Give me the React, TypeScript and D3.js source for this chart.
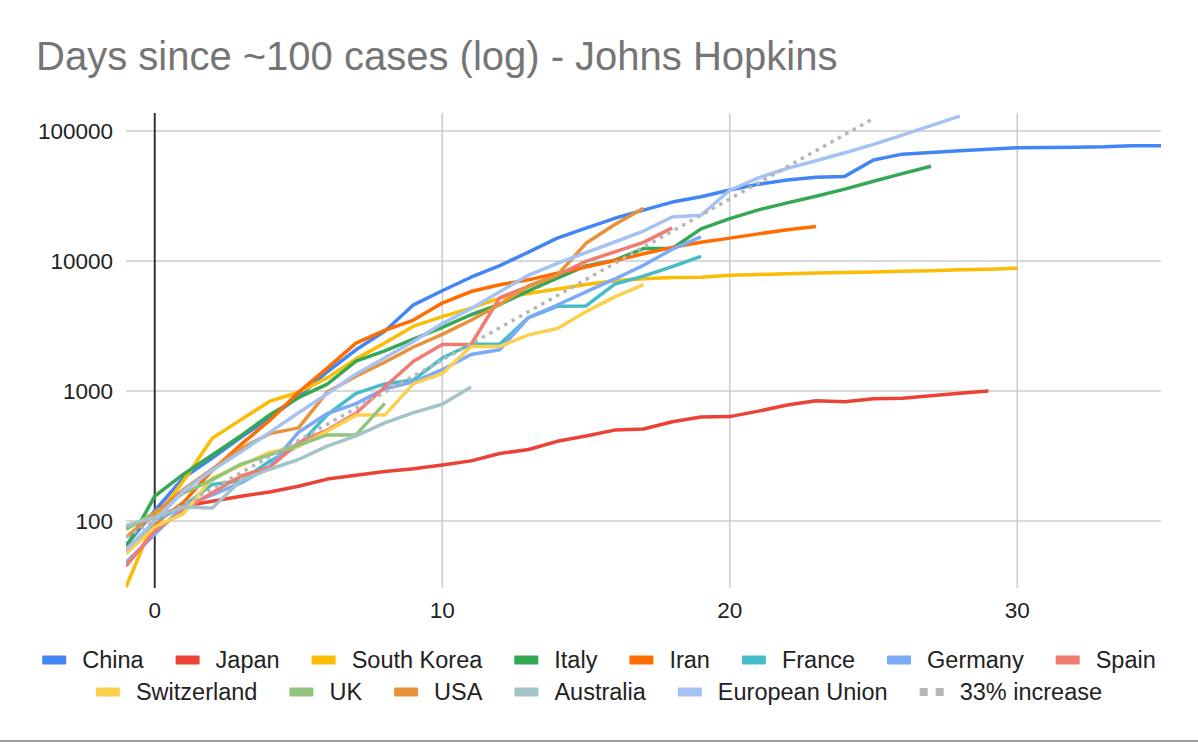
import React, { useRef, useEffect } from "react";
import * as d3 from "d3";

// every series starts on day -1
const startDay = -1;

const seriesNames = [
    "China", "Japan", "South Korea", "Italy", "Iran", "France", "Germany",
    "Spain", "Switzerland", "UK", "USA", "Australia", "European Union", "33% increase",
];
const seriesColors = [
    "#4285F4", "#EA4335", "#FBBC04", "#34A853", "#FF6D01", "#46BDC6", "#7BAAF7",
    "#F07B72", "#FCD04F", "#93C47D", "#E8923A", "#A2C4C9", "#A4C2F4", "#B7B7B7",
];

const china = [65, 120, 215, 305, 440, 620, 900, 1406, 2075, 2877, 4600, 5900, 7500, 9200, 11700, 15000, 17900, 21300, 24600, 28400, 31200, 35200, 39000, 42000, 44000, 44759, 59895, 66358, 68413, 70513, 72434, 74211, 74619, 75077, 75550, 77001, 77022];
const japan = [90, 107, 130, 142, 155, 167, 185, 210, 225, 240, 252, 270, 290, 330, 355, 410, 450, 500, 510, 580, 630, 635, 700, 780, 840, 825, 870, 880, 920, 960, 1000];
const southKorea = [31, 104, 204, 433, 602, 833, 977, 1261, 1766, 2337, 3150, 3736, 4335, 5186, 5621, 6088, 6593, 7041, 7314, 7478, 7513, 7755, 7869, 7979, 8086, 8162, 8236, 8320, 8413, 8565, 8652, 8799];
const italy = [62, 155, 229, 322, 453, 655, 888, 1128, 1694, 2036, 2502, 3089, 3858, 4636, 5883, 7375, 9172, 10149, 12462, 12462, 17660, 21157, 24747, 27980, 31506, 35713, 41035, 47021, 53578];
const iran = [61, 95, 139, 245, 388, 593, 978, 1501, 2336, 2922, 3513, 4747, 5823, 6566, 7161, 8042, 9000, 10075, 11364, 12729, 13938, 14991, 16169, 17361, 18407];
const france = [57, 100, 130, 191, 204, 288, 380, 656, 957, 1134, 1217, 1792, 2289, 2289, 3672, 4480, 4513, 6650, 7652, 9043, 10871];
const germany = [48, 79, 130, 159, 196, 262, 482, 670, 799, 1040, 1176, 1457, 1908, 2078, 3675, 4585, 5795, 7272, 9257, 12327, 15320];
const spain = [45, 84, 120, 165, 222, 259, 400, 500, 673, 1073, 1695, 2277, 2277, 5232, 6391, 7798, 9942, 11748, 13910, 17963];
const switzerland = [56, 90, 114, 214, 268, 337, 374, 491, 652, 652, 1139, 1359, 2200, 2200, 2700, 3028, 4075, 5294, 6575];
const uk = [86, 116, 164, 207, 274, 322, 384, 459, 459, 802];
const usa = [75, 115, 175, 250, 360, 470, 520, 980, 1300, 1663, 2179, 2727, 3499, 4632, 6421, 7783, 13677, 19100, 25489];
const australia = [92, 107, 128, 126, 205, 250, 297, 377, 452, 568, 681, 791, 1071];
const europeanUnion = [60, 100, 170, 245, 340, 480, 680, 950, 1350, 1800, 2400, 3300, 4300, 5800, 7800, 9600, 11600, 14000, 17000, 21800, 22500, 35000, 43600, 51600, 59000, 68000, 79000, 93000, 110000, 130000];
const increase33 = [75, 100, 133, 177, 235, 313, 416, 554, 736, 979, 1302, 1732, 2303, 3064, 4075, 5419, 7208, 9586, 12749, 16956, 22552, 29994, 39892, 53056, 70565, 93851, 124822];

const seriesValues = [china, japan, southKorea, italy, iran, france, germany, spain, switzerland, uk, usa, australia, europeanUnion, increase33];

const xTicks = [0, 10, 20, 30];
const yTicks = [100, 1000, 10000, 100000];

const App = () => {
    const svgRef = useRef(null);

    useEffect(() => {
        const width = 1198;
        const height = 744;
        const plot = { left: 126, right: 1161, top: 113, bottom: 588 };
        const font = "'Liberation Sans', Arial, sans-serif";

        const svg = d3.select(svgRef.current).attr("width", width).attr("height", height);
        svg.selectAll("*").remove();

        svg.append("rect").attr("width", width).attr("height", height).attr("fill", "#fff");

        svg.append("text")
            .attr("x", 36)
            .attr("y", 70)
            .attr("font-family", font)
            .attr("font-size", 40)
            .attr("fill", "#757575")
            .text("Days since ~100 cases (log) - Johns Hopkins");

        const x = d3.scaleLinear().domain([-1, 35]).range([plot.left, plot.right]);
        const y = d3.scaleLog().domain([30.5, 137560]).range([plot.bottom, plot.top]);

        // grid
        svg.append("g")
            .selectAll("line")
            .data(yTicks)
            .enter()
            .append("line")
            .attr("x1", plot.left)
            .attr("x2", plot.right)
            .attr("y1", (d) => y(d))
            .attr("y2", (d) => y(d))
            .attr("stroke", "#cccccc")
            .attr("stroke-width", 1.5);

        svg.append("g")
            .selectAll("line")
            .data(xTicks.filter((d) => d !== 0))
            .enter()
            .append("line")
            .attr("x1", (d) => x(d))
            .attr("x2", (d) => x(d))
            .attr("y1", plot.top)
            .attr("y2", plot.bottom)
            .attr("stroke", "#cccccc")
            .attr("stroke-width", 1.5);

        svg.append("line")
            .attr("x1", x(0))
            .attr("x2", x(0))
            .attr("y1", plot.top)
            .attr("y2", plot.bottom)
            .attr("stroke", "#333333")
            .attr("stroke-width", 2);

        // tick labels
        svg.append("g")
            .selectAll("text")
            .data(yTicks)
            .enter()
            .append("text")
            .attr("x", 113)
            .attr("y", (d) => y(d) + 8)
            .attr("text-anchor", "end")
            .attr("font-family", font)
            .attr("font-size", 22.5)
            .attr("fill", "#222")
            .text((d) => String(d));

        svg.append("g")
            .selectAll("text")
            .data(xTicks)
            .enter()
            .append("text")
            .attr("x", (d) => x(d))
            .attr("y", 618)
            .attr("text-anchor", "middle")
            .attr("font-family", font)
            .attr("font-size", 22.5)
            .attr("fill", "#222")
            .text((d) => String(d));

        // lines
        svg.append("clipPath")
            .attr("id", "plot-clip")
            .append("rect")
            .attr("x", plot.left)
            .attr("y", plot.top)
            .attr("width", plot.right - plot.left)
            .attr("height", plot.bottom - plot.top);

        const line = d3
            .line<number>()
            .x((d, i) => x(startDay + i))
            .y((d) => y(d));

        const lines = svg.append("g").attr("clip-path", "url(#plot-clip)");
        seriesValues.forEach((values, k) => {
            const dotted = k === seriesValues.length - 1;
            lines.append("path")
                .attr("d", line(values))
                .attr("fill", "none")
                .attr("stroke", seriesColors[k])
                .attr("stroke-width", 3.5)
                .attr("stroke-linejoin", "round")
                .attr("stroke-dasharray", dotted ? "3.5 5" : null);
        });

        // legend, two centred rows
        const rows = [seriesNames.slice(0, 8), seriesNames.slice(8)];
        const rowY = [660, 692];
        const swatchW = 24;
        const swatchGap = 16;
        const itemGap = 32;
        let offset = 0;
        rows.forEach((names, r) => {
            const g = svg.append("g");
            let cx = 0;
            names.forEach((name, j) => {
                const k = offset + j;
                if (k === seriesNames.length - 1) {
                    [0, 16].forEach((dx) => {
                        g.append("rect")
                            .attr("x", cx + dx)
                            .attr("y", rowY[r] - 4)
                            .attr("width", 8)
                            .attr("height", 8)
                            .attr("fill", seriesColors[k]);
                    });
                } else {
                    g.append("rect")
                        .attr("x", cx)
                        .attr("y", rowY[r] - 4.5)
                        .attr("width", swatchW)
                        .attr("height", 9)
                        .attr("rx", 1)
                        .attr("fill", seriesColors[k]);
                }
                const t = g.append("text")
                    .attr("x", cx + swatchW + swatchGap)
                    .attr("y", rowY[r] + 8)
                    .attr("font-family", font)
                    .attr("font-size", 23.5)
                    .attr("fill", "#222")
                    .text(name);
                const tw = (t.node() as SVGTextElement).getComputedTextLength();
                cx += swatchW + swatchGap + tw + itemGap;
            });
            const rowWidth = cx - itemGap;
            g.attr("transform", `translate(${width / 2 - rowWidth / 2},0)`);
            offset += names.length;
        });

        svg.append("line")
            .attr("x1", 0)
            .attr("x2", width)
            .attr("y1", 741)
            .attr("y2", 741)
            .attr("stroke", "#9e9e9e")
            .attr("stroke-width", 2);
    }, []);

    return <svg ref={svgRef} style={{ position: "absolute", left: 0, top: 0 }}></svg>;
};

export default App;
